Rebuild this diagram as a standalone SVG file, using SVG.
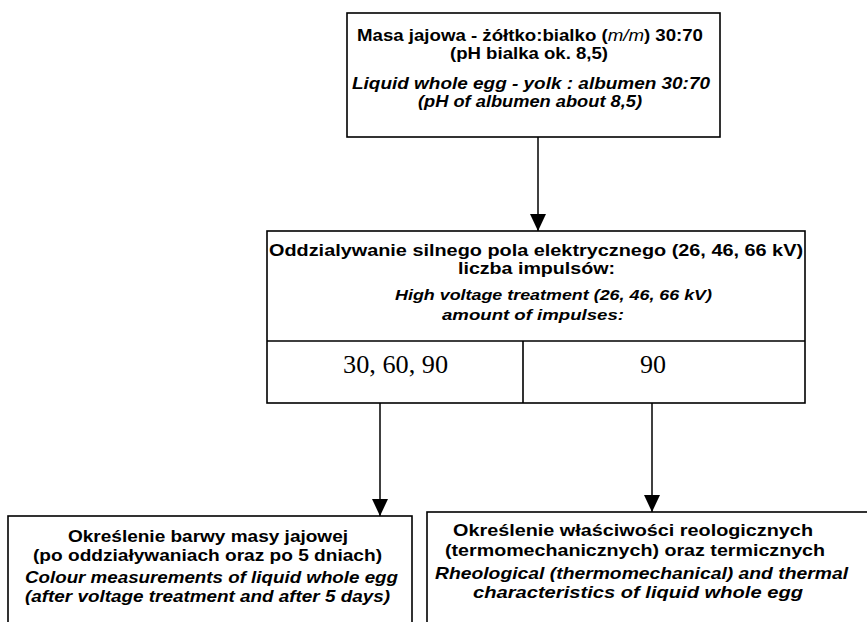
<svg xmlns="http://www.w3.org/2000/svg" width="867" height="622" viewBox="0 0 867 622">
<style>
.box{fill:#fff;stroke:#000;stroke-width:1.6}
.ln{fill:none;stroke:#000;stroke-width:1.6}
.t{font-family:"Liberation Sans",Arial,sans-serif;font-size:16.5px;font-weight:bold;fill:#000}
.s{font-size:15px}
.i{font-style:italic}
.n{font-family:"Liberation Serif","Times New Roman",serif;font-size:26px;fill:#000}
.con{fill:none;stroke:#000;stroke-width:1.5}
</style>
<defs>
<marker id="ah" viewBox="0 0 17 16" refX="17" refY="8" markerWidth="17" markerHeight="16" markerUnits="userSpaceOnUse" orient="auto">
<path d="M0,0 L17,8 L0,16 z" fill="#000"/>
</marker>
</defs>
<rect width="867" height="622" fill="#fff"/>
<g id="connectors">
<path class="con" d="M538,137 V231" marker-end="url(#ah)"/>
<path class="con" d="M380,403 V516" marker-end="url(#ah)"/>
<path class="con" d="M652,403 V512" marker-end="url(#ah)"/>
</g>
<g id="node-input">
<rect class="box" x="347" y="13" width="373" height="124"/>
<text class="t" x="357" y="41" textLength="346" lengthAdjust="spacingAndGlyphs">Masa jajowa - żółtko:bialko (<tspan font-style="italic" font-weight="normal">m/m</tspan>) 30:70</text>
<text class="t" x="450" y="59" textLength="158" lengthAdjust="spacingAndGlyphs">(pH bialka ok. 8,5)</text>
<text class="t i" x="352" y="89" textLength="358" lengthAdjust="spacingAndGlyphs">Liquid whole egg - yolk : albumen 30:70</text>
<text class="t i" x="418" y="107" textLength="224" lengthAdjust="spacingAndGlyphs">(pH of albumen about 8,5)</text>
</g>
<g id="node-treatment">
<rect class="box" x="267" y="231" width="538" height="172"/>
<path class="ln" d="M267,341 H805 M523,341 V403"/>
<text class="t" x="269" y="256" textLength="534" lengthAdjust="spacingAndGlyphs">Oddzialywanie silnego pola elektrycznego (26, 46, 66 kV)</text>
<text class="t" x="458" y="274" textLength="157" lengthAdjust="spacingAndGlyphs">liczba impulsów:</text>
<text class="t i s" x="395" y="300" textLength="317" lengthAdjust="spacingAndGlyphs">High voltage treatment (26, 46, 66 kV)</text>
<text class="t i s" x="442" y="320" textLength="182" lengthAdjust="spacingAndGlyphs">amount of impulses:</text>
<text class="n" x="343" y="373" textLength="105" lengthAdjust="spacingAndGlyphs">30, 60, 90</text>
<text class="n" x="640" y="373">90</text>
</g>
<g id="node-colour">
<rect class="box" x="8" y="516" width="404" height="130"/>
<text class="t" x="68" y="542" textLength="280" lengthAdjust="spacingAndGlyphs">Określenie barwy masy jajowej</text>
<text class="t" x="33" y="561" textLength="349" lengthAdjust="spacingAndGlyphs">(po oddziaływaniach oraz po 5 dniach)</text>
<text class="t i" x="25" y="583" textLength="373" lengthAdjust="spacingAndGlyphs">Colour measurements of liquid whole egg</text>
<text class="t i" x="25" y="602" textLength="365" lengthAdjust="spacingAndGlyphs">(after voltage treatment and after 5 days)</text>
</g>
<g id="node-rheology">
<rect class="box" x="427" y="512" width="460" height="130"/>
<text class="t" x="453" y="536" textLength="360" lengthAdjust="spacingAndGlyphs">Określenie właściwości reologicznych</text>
<text class="t" x="445" y="556" textLength="380" lengthAdjust="spacingAndGlyphs">(termomechanicznych) oraz termicznych</text>
<text class="t i" x="435" y="579" textLength="413" lengthAdjust="spacingAndGlyphs">Rheological (thermomechanical) and thermal</text>
<text class="t i" x="473" y="598" textLength="330" lengthAdjust="spacingAndGlyphs">characteristics of liquid whole egg</text>
</g>
</svg>
